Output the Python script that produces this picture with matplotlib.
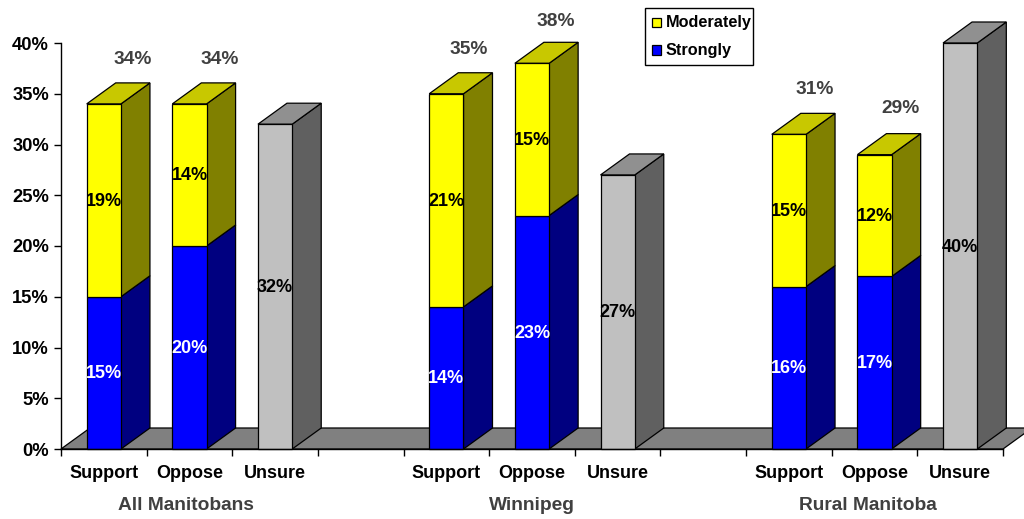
import matplotlib
matplotlib.use("Agg")
import matplotlib.pyplot as plt
from matplotlib.patches import Polygon, Rectangle

plt.rcParams['font.family'] = ['Liberation Sans', 'DejaVu Sans']

groups = ["All Manitobans", "Winnipeg", "Rural Manitoba"]
responses = ["Support", "Oppose", "Unsure"]
strongly = [[15, 20], [14, 23], [16, 17]]
moderately = [[19, 14], [21, 15], [15, 12]]
totals = [[34, 34], [35, 38], [31, 29]]
unsure = [32, 27, 40]
y_ticks = [0, 5, 10, 15, 20, 25, 30, 35, 40]

W, H = 1024, 519
L, R, T, B = 61, 1003, 43, 449
N_CAT = 11
PX = 0.72  # points per pixel at dpi 100
fig = plt.figure(figsize=(W / 100, H / 100), dpi=100, facecolor='white')
ax = fig.add_axes([L / W, 1 - B / H, (R - L) / W, (B - T) / H])
ax.set_xlim(0, N_CAT)
ax.set_ylim(0, 40)

DX = 29 / ((R - L) / N_CAT)
DY = 21 / ((B - T) / 40)
BW = 0.40
FS = 13.0
FS_BIG = 13.8
EDGE = dict(edgecolor='black', linewidth=0.9, clip_on=False)
TOTAL_OFF_X = [[29, 30], [22, 24], [26, 26]]
TOTAL_OFF_Y = [[44, 44], [44, 42], [45, 46]]
GROUP_X = [1.46, 5.5, 9.42]


def box(x, y0, y1, front, side, top=None, z=3):
    x0, x1 = x - BW / 2, x + BW / 2
    ax.add_patch(Polygon([(x1, y0), (x1 + DX, y0 + DY), (x1 + DX, y1 + DY), (x1, y1)],
                         facecolor=side, zorder=z, **EDGE))
    ax.add_patch(Polygon([(x0, y0), (x1, y0), (x1, y1), (x0, y1)],
                         facecolor=front, zorder=z + 0.1, **EDGE))
    if top:
        ax.add_patch(Polygon([(x0, y1), (x1, y1), (x1 + DX, y1 + DY), (x0 + DX, y1 + DY)],
                             facecolor=top, zorder=z, **EDGE))


def inner_label(x, y, s, color):
    ax.annotate(s, (x, y), xytext=(0, -1 * PX), textcoords='offset points', color=color,
                fontsize=FS, fontweight='bold', ha='center', va='center', zorder=40)


# floor
ax.add_patch(Polygon([(0, 0), (N_CAT, 0), (N_CAT + DX, DY), (DX, DY)],
                     facecolor='#808080', zorder=1, **EDGE))

for g, name in enumerate(groups):
    start = g * 4
    for r in range(2):
        x = start + r + 0.5
        s, m, t = strongly[g][r], moderately[g][r], totals[g][r]
        z = 3 + start + r
        box(x, 0, s, '#0000FF', '#000080', z=z)
        box(x, s, s + m, '#FFFF00', '#808000', '#C8C800', z=z + 0.3)
        inner_label(x, s / 2, f"{s}%", 'white')
        inner_label(x, s + m / 2, f"{m}%", 'black')
        ax.annotate(f"{t}%", (x, t),
                    xytext=(TOTAL_OFF_X[g][r] * PX, TOTAL_OFF_Y[g][r] * PX),
                    textcoords='offset points', color='#404040', fontsize=FS_BIG,
                    fontweight='bold', ha='center', va='center', zorder=40,
                    annotation_clip=False)
    x = start + 2.5
    box(x, 0, unsure[g], '#C0C0C0', '#606060', '#909090', z=3 + start + 2)
    inner_label(x, unsure[g] / 2, f"{unsure[g]}%", 'black')
    ax.text(GROUP_X[g], -5.55, name, color='#404040', fontsize=FS_BIG, fontweight='bold',
            ha='center', va='center')

# axes
for side in ['top', 'right']:
    ax.spines[side].set_visible(False)
for side in ['left', 'bottom']:
    ax.spines[side].set_linewidth(1.0)
    ax.spines[side].set_zorder(30)
ax.patch.set_alpha(0)
ax.set_yticks(y_ticks)
ax.set_yticklabels([f"{v}%" for v in y_ticks], fontsize=13.2, fontweight='bold', color='black')
ax.tick_params(axis='y', length=5, width=1, pad=3.6)
ax.set_xticks(range(N_CAT + 1))
ax.set_xticklabels([])
ax.tick_params(axis='x', which='major', length=5, width=1)
minor_pos, minor_lab = [], []
for g in range(3):
    for r, lab in enumerate(responses):
        minor_pos.append(g * 4 + r + 0.5)
        minor_lab.append(lab)
ax.set_xticks(minor_pos, minor=True)
ax.set_xticklabels(minor_lab, minor=True, fontsize=FS, fontweight='bold')
ax.tick_params(axis='x', which='minor', length=0, pad=11.5)


# legend, laid out in figure pixels
def fx(px):
    return px / W


def fy(py):
    return 1 - py / H


fig.add_artist(Rectangle((fx(645), fy(64.5)), 108 / W, 56.5 / H, transform=fig.transFigure,
                         facecolor='white', edgecolor='black', linewidth=1.0, zorder=50))
for label, color, yc in [("Moderately", '#FFFF00', 22.5), ("Strongly", '#0000FF', 50)]:
    fig.add_artist(Rectangle((fx(652), fy(yc + 4.5)), 9 / W, 9 / H, transform=fig.transFigure,
                             facecolor=color, edgecolor='black', linewidth=0.9, zorder=51))
    fig.text(fx(666), fy(yc), label, fontsize=11.7, fontweight='bold', ha='left',
             va='center', color='black', zorder=52)

fig.savefig('out.png', dpi=100)
